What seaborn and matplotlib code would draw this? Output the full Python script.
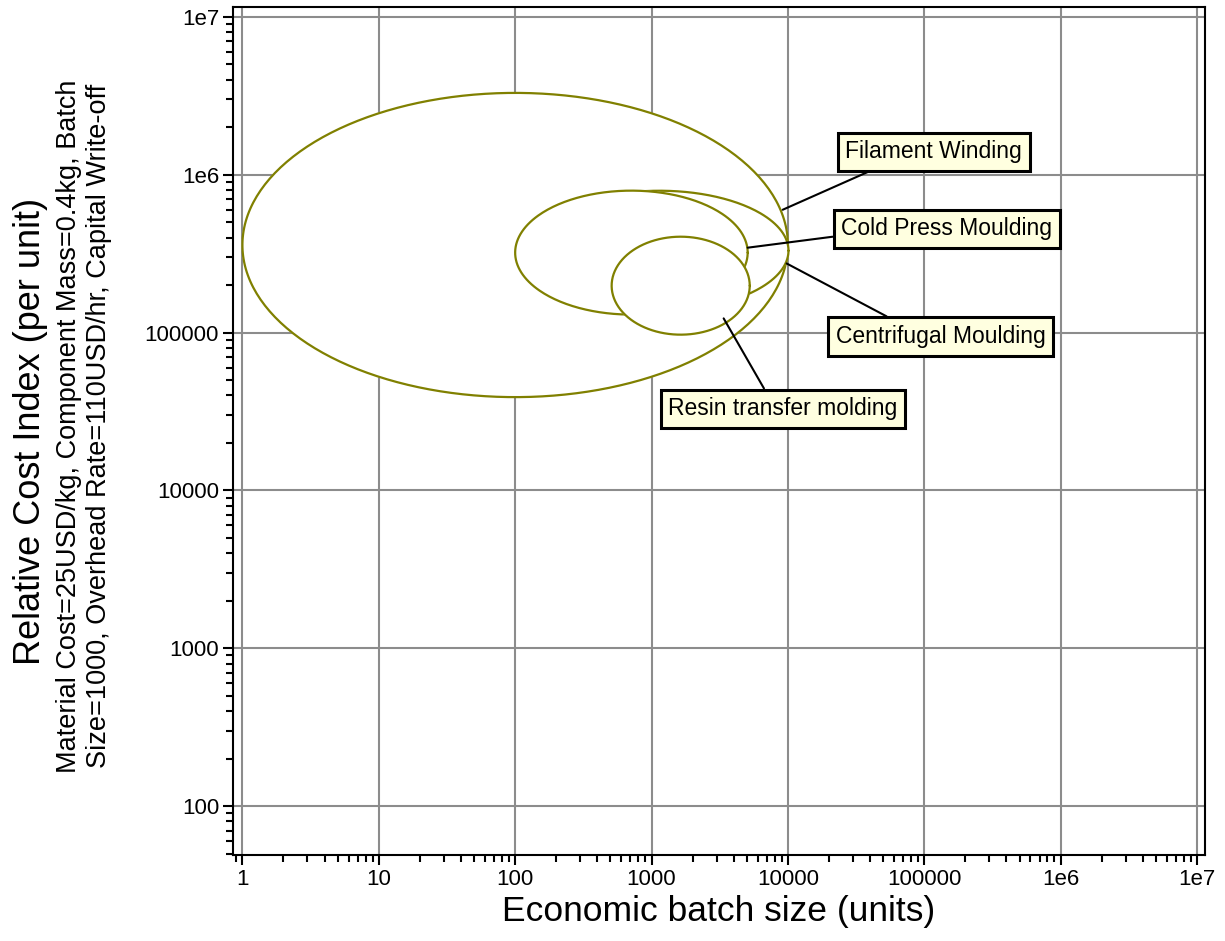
import numpy as np
import pandas as pd
import seaborn as sns
import matplotlib.pyplot as plt
from matplotlib.ticker import FixedLocator, LogLocator, NullFormatter

# --- data: batch size range and cost range of each process ---
processes = ["Filament Winding", "Centrifugal Moulding", "Cold Press Moulding", "Resin transfer molding"]
batch_low = [1, 130, 100, 510]
batch_high = [10000, 10100, 5070, 5250]
cost_low = [39000, 138000, 130000, 97000]
cost_high = [3300000, 792000, 793000, 405000]

x_ticks = [1, 10, 100, 1000, 10000, 100000, 1e6, 1e7]
x_tick_labels = ["1", "10", "100", "1000", "10000", "100000", "1e6", "1e7"]
y_ticks = [100, 1000, 10000, 100000, 1e6, 1e7]
y_tick_labels = ["100", "1000", "10000", "100000", "1e6", "1e7"]

sns.set_style("white")
plt.rcParams['font.family'] = ['Liberation Sans', 'DejaVu Sans']
plt.rcParams['text.color'] = 'black'
plt.rcParams['axes.labelcolor'] = 'black'
plt.rcParams['xtick.color'] = 'black'
plt.rcParams['ytick.color'] = 'black'

olive = '#808000'
fig = plt.figure(figsize=(12.25, 9.41), dpi=100)
ax = fig.add_axes([0.1902, 0.0914, 0.7935, 0.9012])
ax.set_xscale('log')
ax.set_yscale('log')

# bubbles = ellipses in log space spanning each range, drawn in order (white fill hides the ones below)
t = np.linspace(0, 2 * np.pi, 300)
for i, name in enumerate(processes):
    lx0, lx1 = np.log10(batch_low[i]), np.log10(batch_high[i])
    ly0, ly1 = np.log10(cost_low[i]), np.log10(cost_high[i])
    cx, cy = (lx0 + lx1) / 2, (ly0 + ly1) / 2
    rx, ry = (lx1 - lx0) / 2, (ly1 - ly0) / 2
    df = pd.DataFrame({'x': 10 ** (cx + rx * np.cos(t)), 'y': 10 ** (cy + ry * np.sin(t))})
    ax.fill(df['x'], df['y'], color='white', zorder=3 + i)
    sns.lineplot(data=df, x='x', y='y', sort=False, estimator=None, color=olive,
                 lw=1.6, ax=ax, zorder=3.5 + i)

# label boxes (text position, point on the bubble, where the leader leaves the box)
labels = {
    "Filament Winding": ((117000, 1.40e6), (9160, 600000), (0.24, 0.0)),
    "Cold Press Moulding": ((146000, 455000), (5070, 345000), (0.0, 0.2)),
    "Centrifugal Moulding": ((132000, 94400), (9800, 274000), (0.32, 1.0)),
    "Resin transfer molding": ((9160, 33000), (3380, 123000), (0.44, 1.0)),
}
for name, (txt, pt, rp) in labels.items():
    ax.annotate(name, xy=pt, xytext=txt, ha='center', va='center', fontsize=16.5, zorder=20,
                color='black',
                bbox=dict(boxstyle='square,pad=0.33', fc='#FFFFE0', ec='black', lw=2.2),
                arrowprops=dict(arrowstyle='-', color='black', lw=1.5, relpos=rp,
                                shrinkA=0, shrinkB=0))

ax.set_xlim(0.853, 1.145e7)
ax.set_ylim(49, 1.156e7)
ax.xaxis.set_major_locator(FixedLocator(x_ticks))
ax.set_xticklabels(x_tick_labels)
ax.yaxis.set_major_locator(FixedLocator(y_ticks))
ax.set_yticklabels(y_tick_labels)
for a in (ax.xaxis, ax.yaxis):
    a.set_minor_locator(LogLocator(base=10, subs=np.arange(2, 10), numticks=20))
    a.set_minor_formatter(NullFormatter())

ax.grid(True, which='major', color='#8c8c8c', lw=1.5)
ax.set_axisbelow(True)
ax.tick_params(which='major', direction='out', length=7, width=1.5, labelsize=16, pad=3,
               left=True, bottom=True, colors='black')
ax.tick_params(which='minor', direction='out', length=5, width=1.5, left=True, bottom=True,
               colors='black')
for s in ax.spines.values():
    s.set_color('black')
    s.set_linewidth(1.5)

ax.set_xlabel('Economic batch size (units)', fontsize=25.5, labelpad=4, color='black')
ax.set_ylabel('')
fig.text(0.0245, 0.542, 'Relative Cost Index (per unit)', rotation=90, fontsize=26,
         ha='center', va='center')
fig.text(0.0685, 0.547, 'Material Cost=25USD/kg, Component Mass=0.4kg, Batch\n'
         'Size=1000, Overhead Rate=110USD/hr, Capital Write-off',
         rotation=90, fontsize=19.5, ha='center', va='center', multialignment='center',
         linespacing=1.22)

plt.savefig('out.png', dpi=100)
